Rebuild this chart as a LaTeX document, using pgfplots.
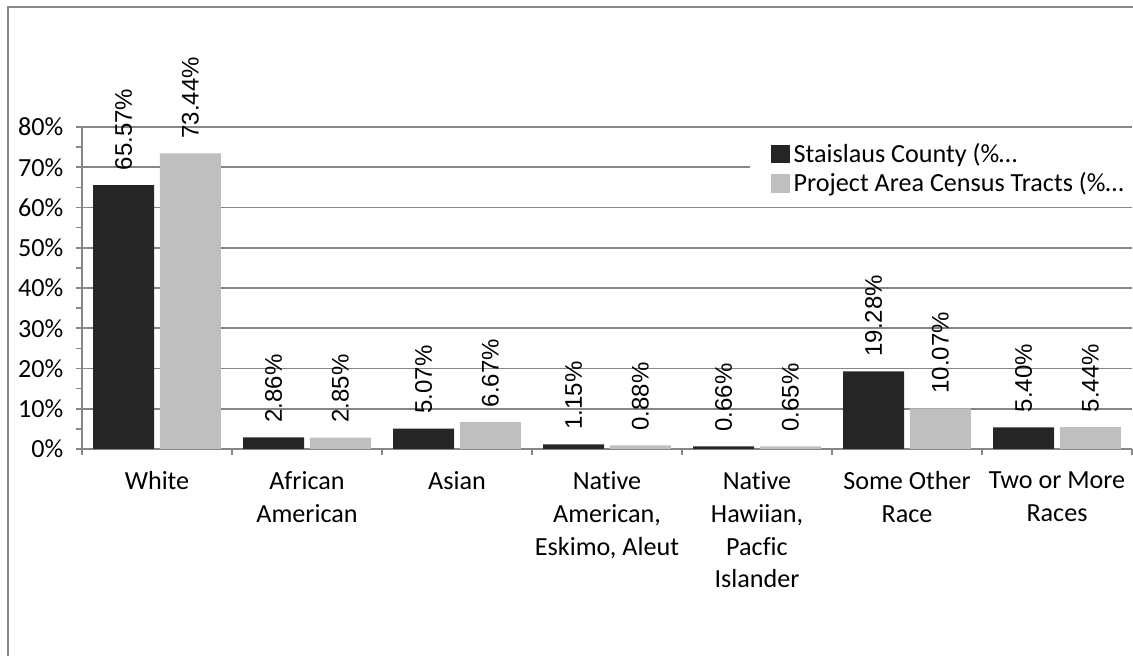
\documentclass[border=0pt]{standalone}
\usepackage{fontspec}
\setmainfont[Ligatures=NoCommon]{Carlito}
\newfontfamily\arialfont{Liberation Sans}
\usepackage{pgfplots}
\pgfplotsset{compat=1.18}
\definecolor{darkbar}{HTML}{262626}
\definecolor{lightbar}{HTML}{BFBFBF}
\definecolor{axgray}{HTML}{868686}
\begin{document}
\begin{tikzpicture}
\def\px{0.75pt}
\begin{axis}[
  at={(0,0)}, anchor=south west,
  width=787.5pt, height=241.5pt, scale only axis,
  xmin=-0.5, xmax=6.5, ymin=0, ymax=80,
  clip=false,
  /pgf/number format/assume math mode=true,
  axis lines*=left,
  axis line style={axgray, line width=1.2pt},
  ybar,
  ytick={0,10,...,80},
  yticklabels={0\%,10\%,20\%,30\%,40\%,50\%,60\%,70\%,80\%},
  minor y tick num=1,
  xtick={0,...,6},
  minor xtick={-0.5,0.5,...,6.5},
  xticklabels={{White}, {African\\American}, {Asian}, {Native\\American,\\Eskimo, Aleut}, {Native\\Hawiian,\\Pacfic\\Islander}, {Some Other\\Race}, {Two or More\\Races}},
  major x tick style={draw=none},
  tick align=outside,
  major tick length=4.5pt, minor tick length=4.5pt,
  every tick/.style={axgray, line width=1.2pt},
  ymajorgrids=true,
  grid style={axgray, line width=1.2pt},
  tick label style={font=\fontsize{19.6}{24.5}\selectfont},
  x tick label style={align=center, anchor=north, yshift=-9pt},
  y tick label style={xshift=-6pt},
  bar width=0.407,
  nodes near coords={\pgfmathprintnumber[fixed, fixed zerofill, precision=2]{\pgfplotspointmeta}\%},
  every node near coord/.append style={rotate=90, anchor=west, font=\arialfont\fontsize{18}{18}\selectfont, inner xsep=11pt, inner ysep=0pt, text=black},
  legend cell align=left,
  legend style={at={(0.636,0.966)}, anchor=north west, fill=white, draw=none,
    font=\fontsize{19.6}{22}\selectfont, inner xsep=15.75pt, inner ysep=2pt, row sep=2pt,
    column sep=2pt, nodes={inner xsep=1pt}},
  legend image code/.code={\fill[#1] (0pt,-7pt) rectangle (14pt,7pt);},
]
\addplot[fill=darkbar, draw=none, bar shift=-0.223] coordinates {(0,65.57) (1,2.86) (2,5.07) (3,1.15) (4,0.66) (5,19.28) (6,5.40)};
\addplot[fill=lightbar, draw=none, bar shift=0.223] coordinates {(0,73.44) (1,2.85) (2,6.67) (3,0.88) (4,0.65) (5,10.07) (6,5.44)};
\legend{Staislaus County (\%\ldots, Project Area Census Tracts (\%\ldots}
\end{axis}
\draw[axgray, line width=1.5pt] ({-74*\px},{-215*\px}) -- ({-74*\px},{442*\px}) -- ({1060*\px},{442*\px});
\pgfresetboundingbox
\useasboundingbox ({-82*\px},{-207*\px}) rectangle ({1051*\px},{449*\px});
\end{tikzpicture}
\end{document}
